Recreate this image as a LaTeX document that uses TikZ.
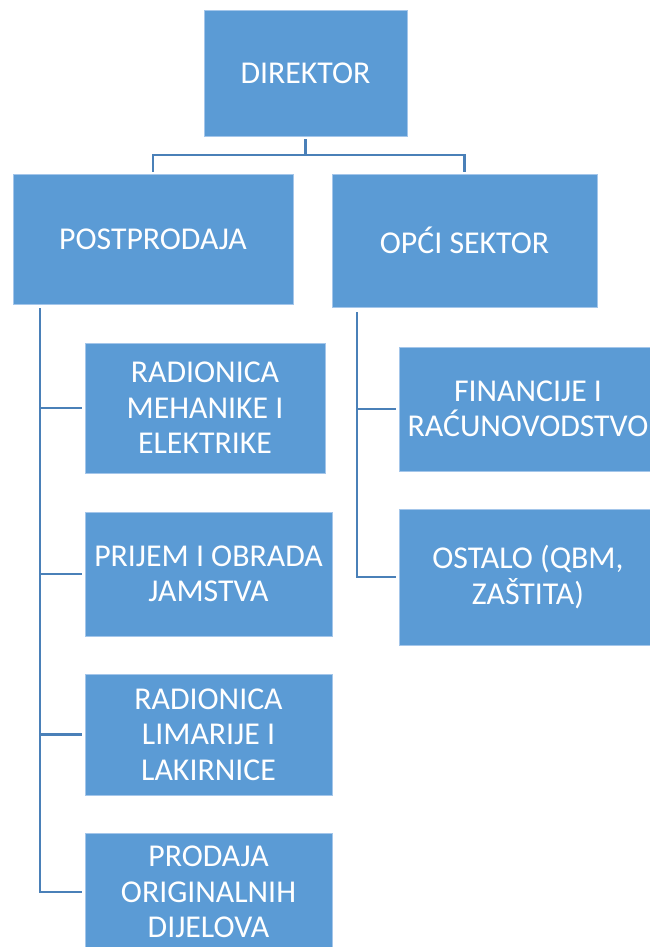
\documentclass[tikz,border=0pt]{standalone}
\usepackage{fontspec}
\setmainfont{Carlito}
\definecolor{boxblue}{HTML}{5B9BD5}
\definecolor{boxedge}{HTML}{A4C6EA}
\definecolor{linkblue}{HTML}{4A80B8}

\begin{document}
\begin{tikzpicture}[x=1pt,y=-1pt,
  unit/.style={rectangle,draw=boxedge,line width=0.8pt,fill=boxblue,text=white,
    align=center,inner sep=0pt,font=\fontsize{31.8}{35.5}\selectfont},
  link/.style={draw=linkblue,line width=2.7pt}]
\useasboundingbox (0,0) rectangle (649,947);

\path (305.5,73) node[unit,minimum width=203pt,minimum height=126pt] (dir) {DIREKTOR};

\path (153,239) node[unit,minimum width=280pt,minimum height=130pt] (pp) {POSTPRODAJA};
\path (464.5,240.5) node[unit,minimum width=265pt,minimum height=133pt] (os) {OPĆI SEKTOR};

\path (305.5,155) coordinate (hub);
\draw[link,shorten <=3pt] (dir) -- (hub);
\draw[link,shorten >=2pt] (hub) -| (pp);
\draw[link,shorten >=2pt] (hub) -| (os);

\path (205,408) node[unit,minimum width=240pt,minimum height=130pt] (rme) {RADIONICA\\MEHANIKE I\\ELEKTRIKE};
\path (208.5,574) node[unit,minimum width=247pt,minimum height=124pt] (pio) {PRIJEM I OBRADA\\JAMSTVA};
\path (208.5,734.5) node[unit,minimum width=247pt,minimum height=121pt] (rll) {RADIONICA\\LIMARIJE I\\LAKIRNICE};
\path (208.5,892) node[unit,minimum width=247pt,minimum height=118pt] (pod) {PRODAJA\\ORIGINALNIH\\DIJELOVA};

\path (40,308) coordinate (ppbus);
\draw[link,shorten >=3pt] (ppbus) |- (pod);
\draw[link,shorten >=3pt] (ppbus |- rme) -- (rme);
\draw[link,shorten >=3pt] (ppbus |- pio) -- (pio);
\draw[link,shorten >=3pt] (ppbus |- rll) -- (rll);

\path (528,409) node[unit,minimum width=258pt,minimum height=124pt] (fir) {FINANCIJE I\\RAĆUNOVODSTVO};
\path (528,577) node[unit,minimum width=258pt,minimum height=136pt] (ost) {OSTALO (QBM,\\ZAŠTITA)};

\path (357,312) coordinate (osbus);
\draw[link,shorten >=3pt] (osbus) |- (ost);
\draw[link,shorten >=3pt] (osbus |- fir) -- (fir);
\end{tikzpicture}
\end{document}
